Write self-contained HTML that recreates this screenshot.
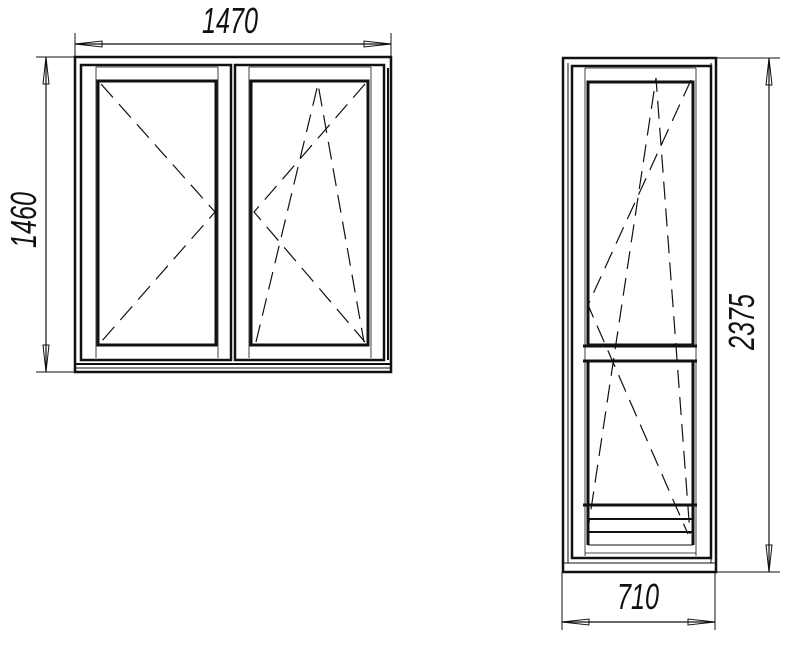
<!DOCTYPE html>
<html><head><style>body{margin:0;background:#fff}svg{display:block}</style></head><body>
<svg width="800" height="646" viewBox="0 0 800 646" xmlns="http://www.w3.org/2000/svg" font-family="Liberation Sans, sans-serif">
<g fill="none" stroke="#111">
<!-- WINDOW -->
<line x1="75" y1="33" x2="75" y2="60" stroke-width="1"/>
<line x1="391" y1="33" x2="391" y2="60" stroke-width="1"/>
<line x1="75" y1="44" x2="391" y2="44" stroke-width="1.2"/>
<path d="M75 44 L102 41 L102 47 Z M391 44 L364 41 L364 47 Z" stroke-width="1"/>
<line x1="36" y1="57" x2="75" y2="57" stroke-width="1"/>
<line x1="36" y1="372" x2="75" y2="372" stroke-width="1"/>
<line x1="46" y1="57" x2="46" y2="372" stroke-width="1.2"/>
<path d="M46 57 L43 84 L49 84 Z M46 372 L43 345 L49 345 Z" stroke-width="1"/>
<rect x="75" y="57" width="316" height="315" stroke-width="2.5"/>
<line x1="75" y1="364" x2="391" y2="364" stroke-width="2"/>
<line x1="75" y1="368" x2="391" y2="368" stroke-width="1"/>
<rect x="81" y="65" width="150" height="295" stroke-width="2.5"/>
<rect x="235" y="65" width="149" height="295" stroke-width="2.5"/>
<line x1="388" y1="68" x2="388" y2="360" stroke-width="2"/>
<line x1="96" y1="67" x2="96" y2="358" stroke-width="0.8"/>
<line x1="218" y1="67" x2="218" y2="358" stroke-width="0.8"/>
<line x1="96" y1="67" x2="218" y2="67" stroke-width="0.8"/>
<line x1="249" y1="67" x2="249" y2="358" stroke-width="0.8"/>
<line x1="371" y1="67" x2="371" y2="358" stroke-width="0.8"/>
<line x1="249" y1="67" x2="371" y2="67" stroke-width="0.8"/>
<rect x="98" y="81" width="118" height="264" stroke-width="3"/>
<rect x="251" y="81" width="117" height="264" stroke-width="3"/>
<g stroke-width="1.2" stroke-dasharray="18,9">
<polyline points="101,84 215,212 101,342"/>
<polyline points="365,84 254,212 365,342"/>
<polyline points="256,342 318,84 364,342"/>
</g>
<!-- DOOR -->
<line x1="717" y1="58" x2="780" y2="58" stroke-width="1"/>
<line x1="717" y1="572" x2="780" y2="572" stroke-width="1"/>
<line x1="769" y1="58" x2="769" y2="572" stroke-width="1.2"/>
<path d="M769 58 L766 85 L772 85 Z M769 572 L766 545 L772 545 Z" stroke-width="1"/>
<line x1="562" y1="572" x2="562" y2="630" stroke-width="1"/>
<line x1="715" y1="572" x2="715" y2="630" stroke-width="1"/>
<line x1="562" y1="622" x2="715" y2="622" stroke-width="1.2"/>
<path d="M562 622 L589 619 L589 625 Z M715 622 L688 619 L688 625 Z" stroke-width="1"/>
<rect x="563" y="58" width="153" height="514" stroke-width="2.5"/>
<line x1="563" y1="563" x2="716" y2="563" stroke-width="1"/>
<line x1="568" y1="63" x2="568" y2="563" stroke-width="1"/>
<line x1="711" y1="63" x2="711" y2="563" stroke-width="1"/>
<rect x="572" y="66" width="139" height="492" stroke-width="2.5"/>
<line x1="585" y1="68" x2="585" y2="556" stroke-width="0.8"/>
<line x1="696" y1="68" x2="696" y2="556" stroke-width="0.8"/>
<line x1="585" y1="68" x2="696" y2="68" stroke-width="0.8"/>
<line x1="585" y1="553" x2="696" y2="553" stroke-width="0.8"/>
<rect x="588" y="82" width="105" height="263" stroke-width="3"/>
<line x1="583" y1="346" x2="697" y2="346" stroke-width="3"/>
<line x1="583" y1="361" x2="697" y2="361" stroke-width="3"/>
<line x1="588" y1="361" x2="588" y2="545" stroke-width="3"/>
<line x1="693" y1="361" x2="693" y2="545" stroke-width="3"/>
<line x1="583" y1="505" x2="697" y2="505" stroke-width="3"/>
<line x1="588" y1="519" x2="693" y2="519" stroke-width="2"/>
<line x1="588" y1="532" x2="693" y2="532" stroke-width="2"/>
<line x1="588" y1="545" x2="693" y2="545" stroke-width="1"/>
<g stroke-width="1.2" stroke-dasharray="18,9">
<polyline points="691,80 588,305 688,534"/>
<polyline points="587,536 656,78 690,534"/>
</g>
</g>
<g fill="#111" font-style="italic" font-size="36">
<text x="0" y="0" transform="translate(202,33) scale(0.7,1)">1470</text>
<text x="0" y="0" transform="translate(36,248) rotate(-90) scale(0.7,1)">1460</text>
<text x="0" y="0" transform="translate(617,609) scale(0.7,1)">710</text>
<text x="0" y="0" transform="translate(754,350) rotate(-90) scale(0.7,1)">2375</text>
</g>
</svg>
</body></html>
